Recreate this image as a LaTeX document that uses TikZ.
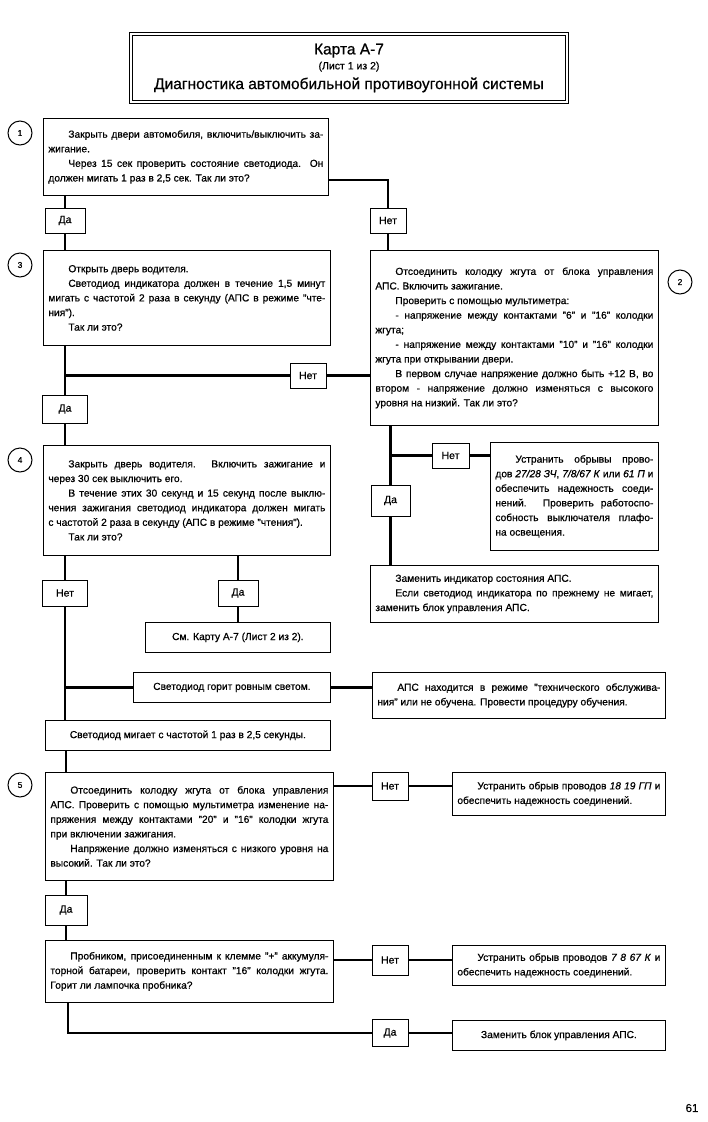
\documentclass[tikz,border=0pt]{standalone}
\usepackage{fontspec}
\setmainfont{Liberation Sans}[FakeBold=0.7]
\hyphenpenalty=10000
\exhyphenpenalty=10000
\tolerance=9999
\newcommand\ind{\hspace*{20pt}}
\begin{document}
\begin{tikzpicture}[x=1pt,y=-1pt,
  tbox/.style={draw, line width=0.8pt, anchor=north west, inner xsep=5pt, inner ysep=2pt, align=justify, font=\fontsize{10.2}{14.6}\selectfont},
  cbox/.style={draw, line width=0.8pt, anchor=north west, inner sep=0pt, align=center, font=\fontsize{10.2}{14.6}\selectfont},
  lbl/.style={draw, line width=0.8pt, inner sep=0pt, font=\fontsize{10.5}{12}\selectfont},
  numc/.style={draw, circle, line width=1pt, minimum size=24pt, inner sep=0pt, font=\fontsize{8.5}{10}\selectfont},
  conn/.style={line width=2.9pt}
]
\useasboundingbox (0,0) rectangle (707,1122);

% title
\node[draw, double, line width=0.8pt, double distance=2.2pt, minimum width=436pt, minimum height=68pt, align=center] (title) at (349,68)
 {{\fontsize{15.5}{17}\selectfont Карта А-7}\\[3pt]{\fontsize{10.5}{12}\selectfont (Лист 1 из 2)}\\[5pt]{\fontsize{15.5}{17}\selectfont Диагностика автомобильной противоугонной системы}};

% number circles
\node[numc] (c1) at (20,133) {1};
\node[numc] (c3) at (20,265) {3};
\node[numc] (c2) at (680,282) {2};
\node[numc] (c4) at (20,460) {4};
\node[numc] (c5) at (20,785) {5};

% boxes
\node[tbox, text width=275pt, minimum height=77pt] (b1) at (43,118)
 {\ind Закрыть двери автомобиля, включить/выключить за-\linebreak жигание.\par
  \ind Через 15 сек проверить состояние светодиода. Он\linebreak должен мигать 1 раз в 2,5 сек. Так ли это?};

\node[tbox, text width=277pt, minimum height=95pt] (b3) at (43,250)
 {\ind Открыть дверь водителя.\par
  \ind Светодиод индикатора должен в течение 1,5 минут\linebreak мигать с частотой 2 раза в секунду (АПС в режиме "чте-\linebreak ния").\par
  \ind Так ли это?};

\node[tbox, text width=278pt, minimum height=175pt] (b2) at (370,250)
 {\ind Отсоединить колодку жгута от блока управления\linebreak АПС. Включить зажигание.\par
  \ind Проверить с помощью мультиметра:\par
  \ind - напряжение между контактами "6" и "16" колодки\linebreak жгута;\par
  \ind - напряжение между контактами "10" и "16" колодки\linebreak жгута при открывании двери.\par
  \ind В первом случае напряжение должно быть +12 В, во\linebreak втором - напряжение должно изменяться с высокого\linebreak уровня на низкий. Так ли это?};

\node[tbox, text width=277pt, minimum height=110pt] (b4) at (43,445)
 {\ind Закрыть дверь водителя. Включить зажигание и\linebreak через 30 сек выключить его.\par
  \ind В течение этих 30 секунд и 15 секунд после выклю-\linebreak чения зажигания светодиод индикатора должен мигать\linebreak с частотой 2 раза в секунду (АПС в режиме "чтения").\par
  \ind Так ли это?};

\node[tbox, text width=158pt, minimum height=108pt] (u1) at (490,442)
 {\ind Устранить обрывы прово-\linebreak дов \textit{27/28 ЗЧ}, \textit{7/8/67 К} или \textit{61 П} и\linebreak обеспечить надежность соеди-\linebreak нений. Проверить работоспо-\linebreak собность выключателя плафо-\linebreak на освещения.};

\node[tbox, text width=278pt, minimum height=57pt] (zi) at (370,565)
 {\ind Заменить индикатор состояния АПС.\par
  \ind Если светодиод индикатора по прежнему не мигает,\linebreak заменить блок управления АПС.};

\node[cbox, minimum width=185pt, minimum height=30pt] (sm) at (145,622) {См. Карту А-7 (Лист 2 из 2).};
\node[cbox, minimum width=197pt, minimum height=30pt] (sg) at (133,672) {Светодиод горит ровным светом.};
\node[tbox, text width=283pt, minimum height=46pt] (ap) at (372,672)
 {\ind АПС находится в режиме "технического обслужива-\linebreak ния" или не обучена. Провести процедуру обучения.};
\node[cbox, minimum width=285pt, minimum height=30pt] (sm2) at (45,720) {Светодиод мигает с частотой 1 раз в 2,5 секунды.};

\node[tbox, text width=278pt, minimum height=108pt] (b5) at (45,772)
 {\ind Отсоединить колодку жгута от блока управления\linebreak АПС. Проверить с помощью мультиметра изменение на-\linebreak пряжения между контактами "20" и "16" колодки жгута\linebreak при включении зажигания.\par
  \ind Напряжение должно изменяться с низкого уровня на\linebreak высокий. Так ли это?};

\node[tbox, text width=203pt, minimum height=43pt] (u2) at (452,772)
 {\ind Устранить обрыв проводов \textit{18 19 ГП} и\linebreak обеспечить надежность соединений.};

\node[tbox, text width=278pt, minimum height=62pt] (b6) at (45,940)
 {\ind Пробником, присоединенным к клемме "+" аккумуля-\linebreak торной батареи, проверить контакт "16" колодки жгута.\linebreak Горит ли лампочка пробника?};

\node[tbox, text width=203pt, minimum height=40pt] (u3) at (452,945)
 {\ind Устранить обрыв проводов \textit{7 8 67 К} и\linebreak обеспечить надежность соединений.};

\node[cbox, minimum width=213pt, minimum height=30pt] (zb) at (452,1020) {Заменить блок управления АПС.};

% yes/no labels
\node[lbl, minimum width=40pt, minimum height=25pt] (d1) at (65,220.5) {Да};
\node[lbl, minimum width=36pt, minimum height=25pt] (n1) at (388,220.5) {Нет};
\node[lbl, minimum width=36pt, minimum height=25pt] (n2) at (308,375.5) {Нет};
\node[lbl, minimum width=45pt, minimum height=28pt] (d2) at (65,409) {Да};
\node[lbl, minimum width=37pt, minimum height=25pt] (n3) at (450.5,455.5) {Нет};
\node[lbl, minimum width=39pt, minimum height=31pt] (d3) at (390.5,500.5) {Да};
\node[lbl, minimum width=45pt, minimum height=26pt] (n4) at (65,593) {Нет};
\node[lbl, minimum width=40pt, minimum height=26pt] (d4) at (238,593) {Да};
\node[lbl, minimum width=36pt, minimum height=28pt] (n5) at (390,786) {Нет};
\node[lbl, minimum width=42pt, minimum height=30pt] (d5) at (66,910) {Да};
\node[lbl, minimum width=36pt, minimum height=30pt] (n6) at (390,960) {Нет};
\node[lbl, minimum width=36pt, minimum height=27pt] (d6) at (390,1033) {Да};

\node[font=\fontsize{11.5}{13}\selectfont] (pg) at (692,1108) {61};

% connectors
\coordinate (k1) at (388,180);
\coordinate (k6) at (68,1033);
\draw[conn] (b1.south -| d1) -- (d1.north);
\draw[conn] (d1.south) -- (d1 |- b3.north);
\draw[conn] (b1.east |- k1) -- (k1) -- (n1.north);
\draw[conn] (n1.south) -- (n1 |- b2.north);
\draw[conn] (b3.south -| d2) -- (d2.north);
\draw[conn] (d2.south) -- (d2 |- b4.north);
\draw[conn] (d2 |- n2) -- (n2.west);
\draw[conn] (n2.east) -- (n2 -| b2.west);
\draw[conn] (b2.south -| d3) -- (d3.north);
\draw[conn] (d3.south) -- (d3 |- zi.north);
\draw[conn] (d3 |- n3) -- (n3.west);
\draw[conn] (n3.east) -- (n3 -| u1.west);
\draw[conn] (b4.south -| n4) -- (n4.north);
\draw[conn] (n4.south) -- (n4 |- sm2.north);
\draw[conn] (n4 |- sg) -- (sg.west);
\draw[conn] (sg.east) -- (sg -| ap.west);
\draw[conn] (b4.south -| d4) -- (d4.north);
\draw[conn] (d4.south) -- (d4 |- sm.north);
\draw[conn] (sm2.south -| d5) -- (d5 |- b5.north);
\draw[conn] (b5.east |- n5) -- (n5.west);
\draw[conn] (n5.east) -- (n5 -| u2.west);
\draw[conn] (b5.south -| d5) -- (d5.north);
\draw[conn] (d5.south) -- (d5 |- b6.north);
\draw[conn] (b6.east |- n6) -- (n6.west);
\draw[conn] (n6.east) -- (n6 -| u3.west);
\draw[conn] (b6.south -| k6) -- (k6) -- (d6.west);
\draw[conn] (d6.east) -- (d6 -| zb.west);
\end{tikzpicture}
\end{document}
